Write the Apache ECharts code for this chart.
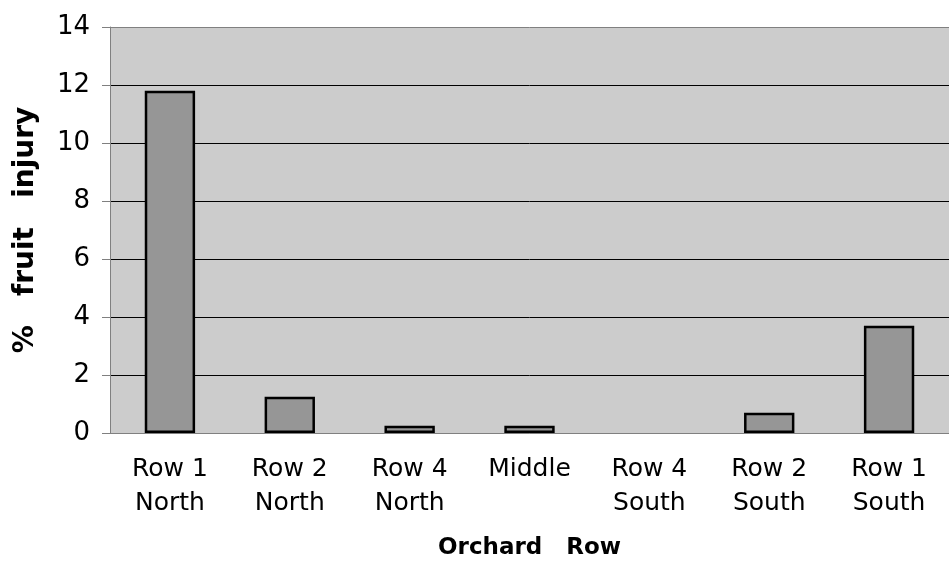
<!DOCTYPE html>
<html>
<head>
<meta charset="utf-8">
<script src="https://cdn.jsdelivr.net/npm/echarts@6/dist/echarts.min.js"></script>
<style>
  html, body { margin: 0; padding: 0; background: #fff; }
  #chart { width: 949px; height: 563px; }
</style>
</head>
<body>
<div id="chart"></div>
<script>
const categories = ['Row 1\nNorth', 'Row 2\nNorth', 'Row 4\nNorth', 'Middle', 'Row 4\nSouth', 'Row 2\nSouth', 'Row 1\nSouth'];
const injury = [11.8, 1.25, 0.25, 0.25, 0, 0.7, 3.7];
const yMin = 0, yMax = 14, yStep = 2;

const font = 'DejaVu Sans';
const myChart = echarts.init(document.getElementById('chart'));

myChart.setOption({
  animation: false,
  grid: {
    left: 110, right: 0, top: 27, bottom: 130,
    outerBoundsMode: 'none', containLabel: false,
    show: true, backgroundColor: '#cccccc', borderWidth: 0
  },
  xAxis: {
    type: 'category',
    data: categories,
    name: 'Orchard   Row',
    nameLocation: 'middle',
    nameGap: 104,
    nameTextStyle: { fontFamily: font, fontSize: 23, fontWeight: 'bold', color: '#000' },
    axisLine: { lineStyle: { color: '#808080', width: 1 } },
    axisTick: { length: 8, lineStyle: { color: '#808080' } },
    axisLabel: { fontFamily: font, fontSize: 25, color: '#000', margin: 19, lineHeight: 34 }
  },
  yAxis: {
    type: 'value',
    min: yMin, max: yMax, interval: yStep,
    name: '%   fruit   injury',
    nameLocation: 'middle',
    nameGap: 70,
    nameTextStyle: { fontFamily: font, fontSize: 28, fontWeight: 'bold', color: '#000' },
    axisLine: { show: true, lineStyle: { color: '#808080', width: 1 } },
    axisTick: { show: true, length: 8, lineStyle: { color: '#808080' } },
    axisLabel: { fontFamily: font, fontSize: 26, color: '#000', margin: 20 },
    splitLine: {
      lineStyle: { color: ['#808080', '#000', '#000', '#000', '#000', '#000', '#000', '#808080'], width: 1 }
    }
  },
  series: [{
    type: 'bar',
    // a zero bar draws nothing in the original
    data: injury.map(v => (v === 0 ? null : v)),
    barWidth: '42%',
    itemStyle: { color: '#969696', borderColor: '#000', borderWidth: 2.5 }
  }]
});
</script>
</body>
</html>
